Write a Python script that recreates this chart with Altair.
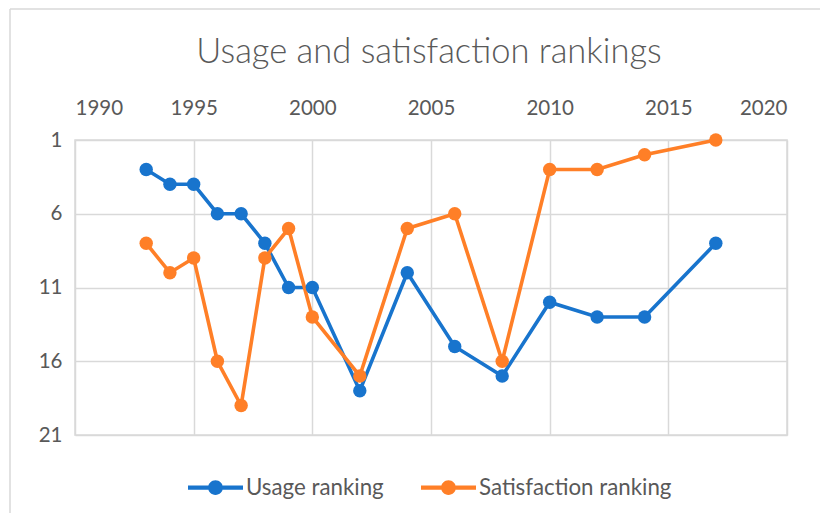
import altair as alt
import pandas as pd

years = [1993, 1994, 1995, 1996, 1997, 1998, 1999, 2000, 2002, 2004, 2006, 2008, 2010, 2012, 2014, 2017]
usage = [3, 4, 4, 6, 6, 8, 11, 11, 18, 10, 15, 17, 12, 13, 13, 8]
satisfaction = [8, 10, 9, 16, 19, 9, 7, 13, 17, 7, 6, 16, 3, 3, 2, 1]
series = ["Usage ranking", "Satisfaction ranking"]
colors = ["#1874cd", "#ff7f27"]
x_ticks = [1990, 1995, 2000, 2005, 2010, 2015, 2020]
y_ticks = [1, 6, 11, 16, 21]
title_text = "Usage and satisfaction rankings"

df = pd.concat([
    pd.DataFrame({"year": years, "rank": usage, "series": series[0]}),
    pd.DataFrame({"year": years, "rank": satisfaction, "series": series[1]}),
])

FONT = "Lato"
GRID = "#d9d9d9"
TXT = "#595959"

x = alt.X("year:Q", scale=alt.Scale(domain=[1990, 2020], nice=False, zero=False),
          axis=alt.Axis(orient="top", values=x_ticks, format="d", title=None))
y = alt.Y("rank:Q", scale=alt.Scale(domain=[1, 21], reverse=True, nice=False, zero=False),
          axis=alt.Axis(values=y_ticks, title=None))

legend_path = ("M-1,-0.075 L-0.26,-0.075 L-0.26,0.075 L-1,0.075 Z "
               "M0.26,-0.075 L1,-0.075 L1,0.075 L0.26,0.075 Z "
               "M0.27,0 A0.27,0.27 0 1,1 -0.27,0 A0.27,0.27 0 1,1 0.27,0 Z")

color_scale = alt.Scale(domain=series, range=colors)

lines = alt.Chart(df).mark_line(strokeWidth=3.6).encode(
    x=x, y=y,
    color=alt.Color("series:N", scale=color_scale, legend=None),
    detail="series:N",
)
points = alt.Chart(df).mark_point(filled=True, size=180, opacity=1).encode(
    x=x, y=y,
    color=alt.Color("series:N", scale=color_scale, sort=series,
                    legend=alt.Legend(title=None, orient="none", direction="horizontal",
                                      legendX=113, legendY=320,
                                      symbolType=legend_path, symbolSize=3025,
                                      symbolStrokeWidth=0, labelOffset=3,
                                      columnPadding=37, labelFontSize=22.3,
                                      labelLimit=400,
                                      labelColor=TXT, labelFont=FONT)),
)

title = alt.Chart().mark_text(font=FONT, fontSize=34.5, fontWeight=300, color=TXT,
                              align="center", baseline="alphabetic").encode(
    x=alt.value(354), y=alt.value(-77), text=alt.value(title_text))

border_left = alt.Chart().mark_rule(color=GRID, strokeWidth=1.5).encode(
    x=alt.value(-65), y=alt.value(-131), y2=alt.value(381))
border_top = alt.Chart().mark_rule(color=GRID, strokeWidth=1.5).encode(
    x=alt.value(-65), x2=alt.value(760), y=alt.value(-131))

chart = alt.layer(border_left, border_top, title, lines, points).resolve_legend(
    color="independent"
).properties(
    width=712, height=295,
    autosize=alt.AutoSizeParams(type="none"),
    padding={"left": 67, "top": 132, "right": 33, "bottom": 78},
).configure_axis(
    grid=True, gridColor=GRID, gridWidth=1.5, domain=False, ticks=False,
    labelFont=FONT, labelFontSize=20.5, labelColor=TXT,
).configure_axisX(labelPadding=22).configure_axisY(labelPadding=13).configure_view(
    stroke=GRID, strokeWidth=1.5
)

chart.save("out.html", embed_options={"renderer": "svg", "actions": False})
